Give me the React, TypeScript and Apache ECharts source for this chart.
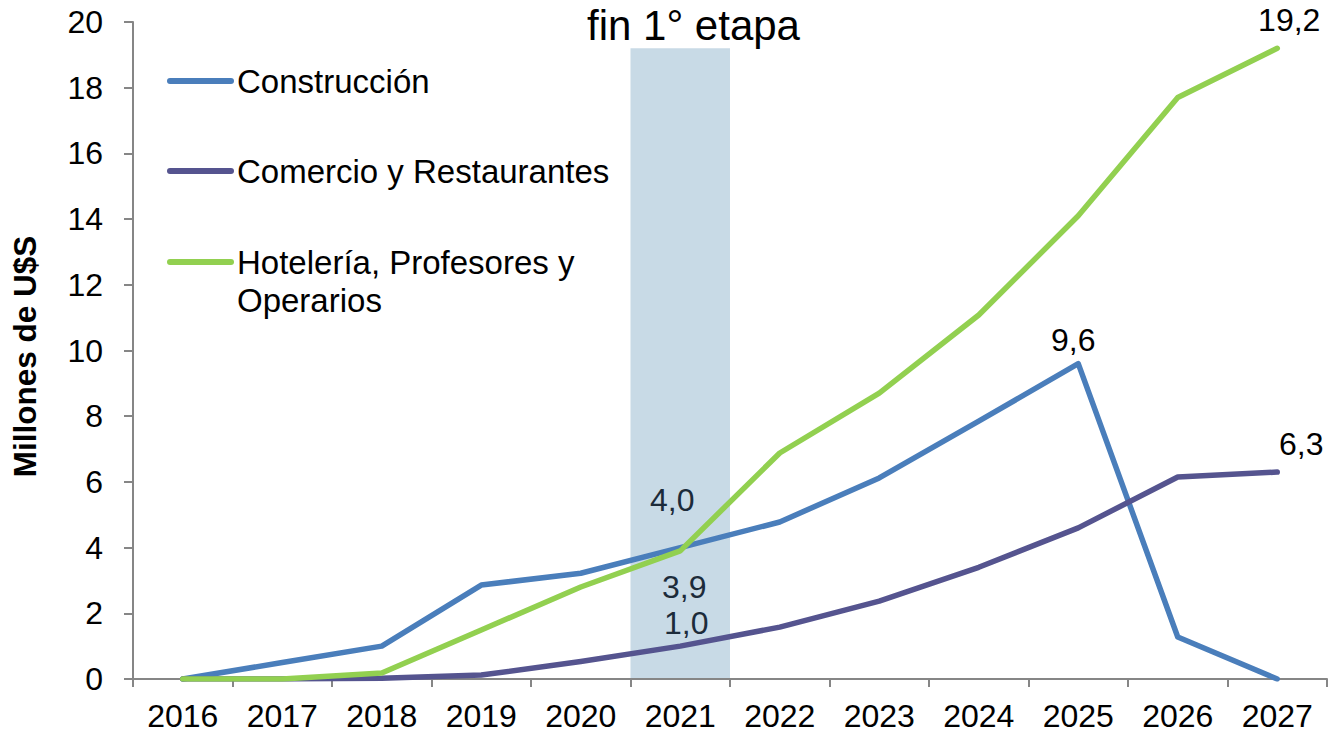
import React, { useEffect, useRef } from "react";
import * as echarts from "echarts";

const categories = ["2016", "2017", "2018", "2019", "2020", "2021", "2022", "2023", "2024", "2025", "2026", "2027"];
const construccion = [0, 0.5, 1.0, 2.86, 3.22, 4.0, 4.78, 6.12, 7.85, 9.6, 1.28, 0];
const comercio = [0, 0, 0.02, 0.12, 0.53, 1.0, 1.58, 2.37, 3.4, 4.6, 6.15, 6.3];
const hoteleria = [0, 0, 0.18, 1.49, 2.8, 3.9, 6.88, 8.7, 11.08, 14.1, 17.7, 19.2];
const seriesNames = ["Construcción", "Comercio y Restaurantes", "Hotelería, Profesores y\nOperarios"];
const bandCategory = "2021";
const bandTop = 19.2;
const yTicks = [0, 2, 4, 6, 8, 10, 12, 14, 16, 18, 20];
const titleText = "fin 1° etapa";
const yAxisTitle = "Millones de U$S";

// labelled points: [series index, category index, dx, dy, colour]
const labelled: any[] = [
  [0, 5, -8, -48, "#1c2b3a"],
  [2, 5, 4, 36, "#1c2b3a"],
  [1, 5, 6, -23, "#1c2b3a"],
  [0, 9, -5, -24, "#000"],
  [1, 11, 24, -28, "#000"],
  [2, 11, 12, -28, "#000"],
];

const COLORS = ["#4A7EBB", "#55548F", "#92D050"];
const FONT = "Liberation Sans, Arial, sans-serif";

function fmt(v: number) {
  return v.toFixed(1).replace(".", ",");
}

export default function App() {
  const ref = useRef<HTMLDivElement>(null);
  useEffect(() => {
    document.body.style.margin = "0";
    const chart = echarts.init(ref.current!, undefined, { renderer: "svg" });
    const all = [construccion, comercio, hoteleria];
    const lineSeries = all.map((arr, si) => ({
      type: "line",
      name: seriesNames[si],
      z: 5,
      symbol: "none",
      showSymbol: true,
      lineStyle: { color: COLORS[si], width: 5.5, cap: "round", join: "round" },
      itemStyle: { color: COLORS[si] },
      data: arr.map((v, ci) => {
        const l = labelled.find((x: any) => x[0] === si && x[1] === ci);
        if (!l) return v;
        return {
          value: v,
          symbol: "circle",
          symbolSize: 0.5,
          label: {
            show: true,
            position: "inside",
            offset: [l[2], l[3]],
            formatter: fmt(v),
            fontSize: 32,
            fontFamily: FONT,
            color: l[4],
          },
        };
      }),
    }));
    const legendY = [81, 171, 262];
    const graphics: any[] = [];
    seriesNames.forEach((n, i) => {
      graphics.push({
        type: "line",
        shape: { x1: 170, y1: legendY[i], x2: 231, y2: legendY[i] },
        style: { stroke: COLORS[i], lineWidth: 6, lineCap: "round" },
        z: 10,
      });
      graphics.push({
        type: "text",
        x: 237,
        y: legendY[i] - 19,
        style: {
          text: n,
          fontSize: 33,
          fontFamily: FONT,
          fill: "#000",
          lineHeight: 38,
          verticalAlign: "top",
          align: "left",
        },
        z: 10,
      });
    });
    chart.setOption({
      animation: false,
      backgroundColor: "#fff",
      title: {
        text: titleText,
        left: 582,
        top: -1,
        textStyle: { fontSize: 42, fontWeight: "normal", fontFamily: FONT, color: "#000" },
      },
      grid: { left: 133, right: 2, top: 22, bottom: 55, containLabel: false },
      xAxis: {
        type: "category",
        data: categories,
        boundaryGap: true,
        z: 3,
        axisLine: { lineStyle: { color: "#868686", width: 2 } },
        axisTick: { show: true, length: 8, lineStyle: { color: "#868686", width: 2 } },
        axisLabel: { fontSize: 32, fontFamily: FONT, color: "#000", margin: 21, interval: 0 },
        splitLine: { show: false },
      },
      yAxis: {
        type: "value",
        min: 0,
        max: yTicks[yTicks.length - 1],
        interval: yTicks[1] - yTicks[0],
        z: 3,
        name: yAxisTitle,
        nameLocation: "middle",
        nameGap: 92,
        nameRotate: 90,
        nameTextStyle: {
          fontSize: 31.5,
          fontWeight: "bold",
          fontFamily: FONT,
          color: "#000",
          padding: [0, 12, 0, 0],
        },
        axisLine: { show: true, lineStyle: { color: "#868686", width: 2 } },
        axisTick: { show: true, length: 9, lineStyle: { color: "#868686", width: 2 } },
        axisLabel: { fontSize: 32, fontFamily: FONT, color: "#000", margin: 30 },
        splitLine: { show: false },
      },
      graphic: graphics,
      series: [
        {
          type: "bar",
          name: "band",
          z: 1,
          silent: true,
          barWidth: "100%",
          itemStyle: { color: "#C8DAE6" },
          data: categories.map((c) => (c === bandCategory ? bandTop : "-")),
        },
        ...lineSeries,
      ],
    });
    return () => chart.dispose();
  }, []);
  return (
    <div
      ref={ref}
      style={{ position: "absolute", left: 0, top: 0, width: 1329, height: 734 }}
    />
  );
}
